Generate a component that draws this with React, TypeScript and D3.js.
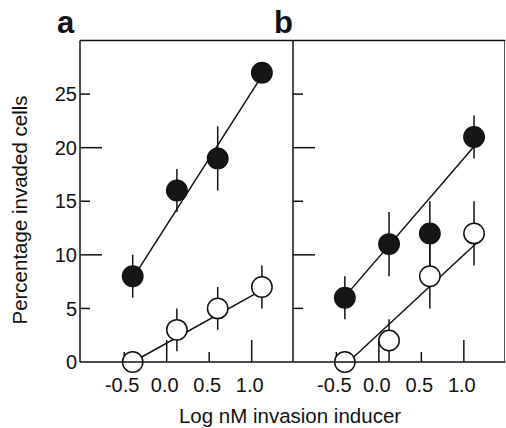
import React from "react";
import * as d3 from "d3";

// ---- data ----
const xDoses = [-0.4, 0.12, 0.6, 1.12];

const aFilled = [8, 16, 19, 27];
const aFilledErr = [2, 2, 3, 1];
const aOpen = [0, 3, 5, 7];
const aOpenErr = [1, 2, 2, 2];

const bFilled = [6, 11, 12, 21];
const bFilledErr = [2, 3, 3, 2];
const bOpen = [0, 2, 8, 12];
const bOpenErr = [1, 2, 3, 3];

// fitted lines: [x0, y0, x1, y1]
const aFilledFit = [-0.4, 7.8, 1.12, 26.7];
const aOpenFit = [-0.4, 0, 1.12, 6.7];
const bFilledFit = [-0.4, 6.1, 1.12, 20.1];
const bOpenFit = [-0.4, -0.3, 1.15, 11.1];

const yTicks = [5, 10, 15, 20, 25];
const yMajor = [10, 20];
const yLabelTicks = [0, 5, 10, 15, 20, 25];
const xTicks = [-0.5, 0, 0.5, 1.0];
const xMajor = [0, 1.0];
const xTickLabels = ["-0.5", "0.0", "0.5", "1.0"];

const FONT = "'Liberation Sans', Arial, Helvetica, sans-serif";

const y = d3.scaleLinear().domain([0, 30]).range([362, 40.5]);
const xA = d3.scaleLinear().domain([-1.02, 1.48]).range([80, 292.5]);
const xB = d3.scaleLinear().domain([-1.01, 1.49]).range([293, 505.5]);

type PanelProps = {
  x: d3.ScaleLinear<number, number>;
  filled: number[];
  filledErr: number[];
  open: number[];
  openErr: number[];
  filledFit: number[];
  openFit: number[];
  showYLabels: boolean;
};

function Panel({ x, filled, filledErr, open, openErr, filledFit, openFit, showYLabels }: PanelProps) {
  const [x0] = x.range();
  const sw = 1.5;
  const r = 10.2;
  return (
    <g>
      {yTicks.map((t) => (
        <line
          key={"yt" + t}
          x1={x0}
          x2={x0 + (yMajor.includes(t) ? 22 : 10)}
          y1={y(t)}
          y2={y(t)}
          stroke="#111"
          strokeWidth={sw}
        />
      ))}
      {showYLabels &&
        yLabelTicks.map((t) => (
          <text
            key={"yl" + t}
            x={x0 - 3}
            y={y(t)}
            dy="0.36em"
            textAnchor="end"
            fontFamily={FONT}
            fontSize={20}
            fill="#111"
          >
            {t}
          </text>
        ))}
      {xTicks.map((t, i) => (
        <g key={"xt" + t}>
          <line
            x1={x(t)}
            x2={x(t)}
            y1={y(0)}
            y2={y(0) - (xMajor.includes(t) ? 22 : 10)}
            stroke="#111"
            strokeWidth={sw}
          />
          <text
            x={x(t) - 2}
            y={392}
            textAnchor="middle"
            fontFamily={FONT}
            fontSize={20}
            fill="#111"
          >
            {xTickLabels[i]}
          </text>
        </g>
      ))}
      <line
        x1={x(filledFit[0])}
        y1={y(filledFit[1])}
        x2={x(filledFit[2])}
        y2={y(filledFit[3])}
        stroke="#111"
        strokeWidth={sw}
      />
      <line
        x1={x(openFit[0])}
        y1={y(openFit[1])}
        x2={x(openFit[2])}
        y2={y(openFit[3])}
        stroke="#111"
        strokeWidth={sw}
      />
      {filled.map((v, i) => (
        <line
          key={"fe" + i}
          x1={x(xDoses[i])}
          x2={x(xDoses[i])}
          y1={y(v - filledErr[i])}
          y2={y(v + filledErr[i])}
          stroke="#111"
          strokeWidth={sw}
        />
      ))}
      {open.map((v, i) => (
        <line
          key={"oe" + i}
          x1={x(xDoses[i])}
          x2={x(xDoses[i])}
          y1={y(Math.max(0, v - openErr[i]))}
          y2={y(v + openErr[i])}
          stroke="#111"
          strokeWidth={sw}
        />
      ))}
      {open.map((v, i) => (
        <circle
          key={"oc" + i}
          cx={x(xDoses[i])}
          cy={y(v)}
          r={r}
          fill="#fff"
          stroke="#111"
          strokeWidth={sw}
        />
      ))}
      {filled.map((v, i) => (
        <circle
          key={"fc" + i}
          cx={x(xDoses[i])}
          cy={y(v)}
          r={r}
          fill="#161616"
          stroke="#111"
          strokeWidth={sw}
        />
      ))}
    </g>
  );
}

export default function App() {
  const top = y(30);
  const bottom = y(0);
  return (
    <svg
      width={506}
      height={428}
      viewBox="0 0 506 428"
      style={{ position: "absolute", left: 0, top: 0, background: "#fff" }}
    >
      <rect x={0} y={0} width={506} height={428} fill="#fff" />
      <Panel
        x={xA}
        filled={aFilled}
        filledErr={aFilledErr}
        open={aOpen}
        openErr={aOpenErr}
        filledFit={aFilledFit}
        openFit={aOpenFit}
        showYLabels={true}
      />
      <Panel
        x={xB}
        filled={bFilled}
        filledErr={bFilledErr}
        open={bOpen}
        openErr={bOpenErr}
        filledFit={bFilledFit}
        openFit={bOpenFit}
        showYLabels={false}
      />
      <line x1={xA.range()[0]} x2={xB.range()[1]} y1={top} y2={top} stroke="#111" strokeWidth={1.5} />
      <line x1={xA.range()[0]} x2={xB.range()[1]} y1={bottom} y2={bottom} stroke="#111" strokeWidth={1.5} />
      <line x1={xA.range()[0]} x2={xA.range()[0]} y1={top} y2={bottom} stroke="#111" strokeWidth={1.5} />
      <line x1={xB.range()[0]} x2={xB.range()[0]} y1={top} y2={bottom} stroke="#111" strokeWidth={1.5} />
      <line x1={xB.range()[1] - 1} x2={xB.range()[1] - 1} y1={top} y2={bottom} stroke="#555" strokeWidth={1} />
      <text x={57} y={33} fontFamily={FONT} fontWeight="bold" fontSize={31} fill="#111">
        a
      </text>
      <text x={274} y={33} fontFamily={FONT} fontWeight="bold" fontSize={31} fill="#111">
        b
      </text>
      <text
        transform={`translate(27, 210) rotate(-90)`}
        textAnchor="middle"
        fontFamily={FONT}
        fontSize={20.5}
        fill="#111"
      >
        Percentage invaded cells
      </text>
      <text x={290} y={423} textAnchor="middle" fontFamily={FONT} fontSize={20.5} fill="#111">
        Log nM invasion inducer
      </text>
    </svg>
  );
}
